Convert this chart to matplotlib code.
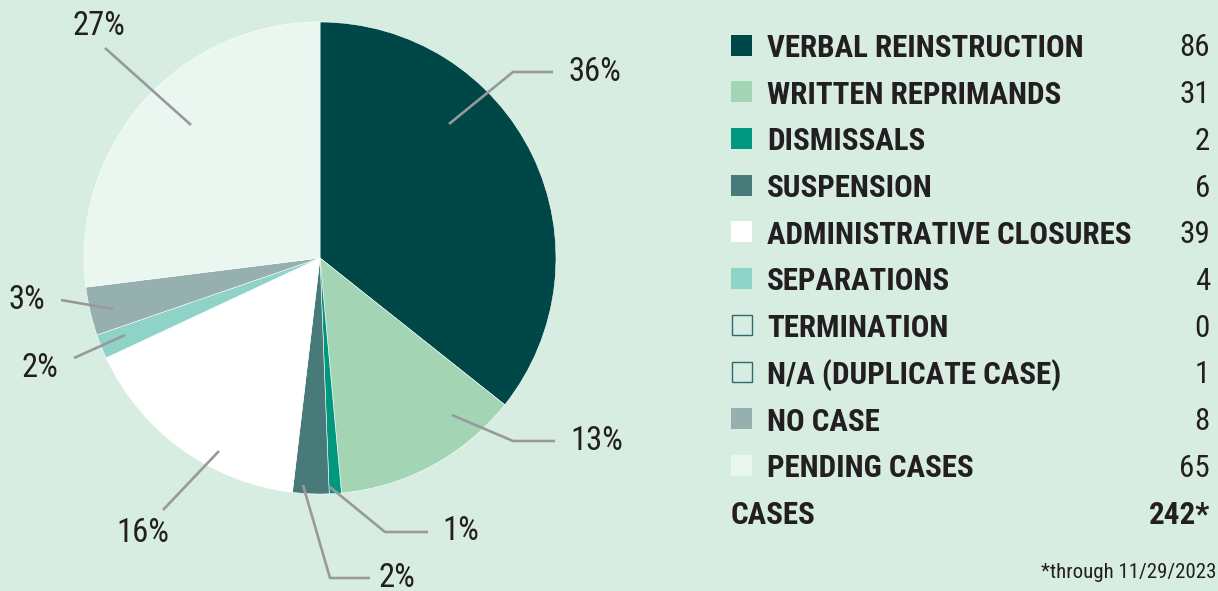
import matplotlib
matplotlib.use("Agg")
import matplotlib.pyplot as plt
from matplotlib.patches import Rectangle

# data
categories = ["VERBAL REINSTRUCTION", "WRITTEN REPRIMANDS", "DISMISSALS", "SUSPENSION",
              "ADMINISTRATIVE CLOSURES", "SEPARATIONS", "TERMINATION",
              "N/A (DUPLICATE CASE)", "NO CASE", "PENDING CASES"]
counts = [86, 31, 2, 6, 39, 4, 0, 1, 8, 65]
total_label = "242*"
footnote = "*through 11/29/2023"

# styles
colors = ["#004748", "#a3d5b5", "#00977f", "#487a7a", "#ffffff", "#8dd3c7",
          None, None, "#96afaf", "#eaf6f0"]
BG = "#d7ede2"
HOLLOW_EDGE = "#2e6b6a"
LINE = "#99999d"
TXT = "#231f20"
FONT = "Roboto Condensed"

W, H = 1218, 591
fig = plt.figure(figsize=(W / 100, H / 100), dpi=100)
fig.patch.set_facecolor(BG)
ax = fig.add_axes([0, 0, 1, 1])


def Y(py):
    return H - py


# pie (slices with no fill colour are not drawn)
shown = [i for i, c in enumerate(colors) if c is not None and counts[i] > 0]
total = sum(counts)
wedges, _ = ax.pie([counts[i] for i in shown], colors=[colors[i] for i in shown],
                   startangle=90, counterclock=False, center=(320, Y(258)), radius=236,
                   wedgeprops=dict(edgecolor="white", linewidth=0.4), frame=True)
ax.set_xlim(0, W)
ax.set_ylim(0, H)
ax.set_aspect("equal")
ax.axis("off")

# percentage labels, leader lines (pixel layout)
label_layout = {
    0: ([(449, 124), (513, 72), (553, 72)], (569, 72), "left"),
    1: ([(452, 415), (513, 441), (555, 441)], (570, 441), "left"),
    2: ([(330, 487), (385, 532), (428, 532)], (442, 531), "left"),
    3: ([(303, 485), (330, 578), (370, 578)], (378, 578), "left"),
    4: ([(219, 451), (163, 510)], (143, 533), "center"),
    5: ([(125, 335), (74, 358)], (40, 368), "center"),
    8: ([(113, 309), (61, 300)], (27, 300), "center"),
    9: ([(191, 125), (105, 48)], (99, 26), "center"),
}
for i, (pts, tpos, ha) in label_layout.items():
    pct = round(counts[i] / total * 100)
    ax.plot([p[0] for p in pts], [Y(p[1]) for p in pts], color=LINE, lw=1.9,
            solid_capstyle="butt")
    ax.text(tpos[0], Y(tpos[1]), f"{pct}%", ha=ha, va="center", fontsize=23.5,
            family=FONT, color=TXT)

# legend table
row_y0, row_dy = 45, 46.7
for k, (name, n, c) in enumerate(zip(categories, counts, colors)):
    yy = row_y0 + k * row_dy
    if c is None:
        sq = Rectangle((731.5, Y(yy + 10)), 20, 20, facecolor=BG, edgecolor=HOLLOW_EDGE, lw=1.0)
    else:
        sq = Rectangle((731, Y(yy + 10.5)), 21, 21, facecolor=c, edgecolor="none")
    ax.add_patch(sq)
    ax.text(767, Y(yy), name, ha="left", va="center_baseline", fontsize=22.3,
            family=FONT, weight="bold", color=TXT)
    ax.text(1210, Y(yy), str(n), ha="right", va="center_baseline", fontsize=22.3,
            family=FONT, color=TXT)

yy = row_y0 + len(categories) * row_dy
ax.text(731, Y(yy), "CASES", ha="left", va="center_baseline", fontsize=22.3,
        family=FONT, weight="bold", color=TXT)
ax.text(1210, Y(yy), total_label, ha="right", va="center_baseline", fontsize=22.3,
        family=FONT, weight="bold", color=TXT)
ax.text(1216, Y(570), footnote, ha="right", va="center_baseline", fontsize=15,
        family=FONT, color=TXT)

fig.savefig("out.png", dpi=100, facecolor=BG)
